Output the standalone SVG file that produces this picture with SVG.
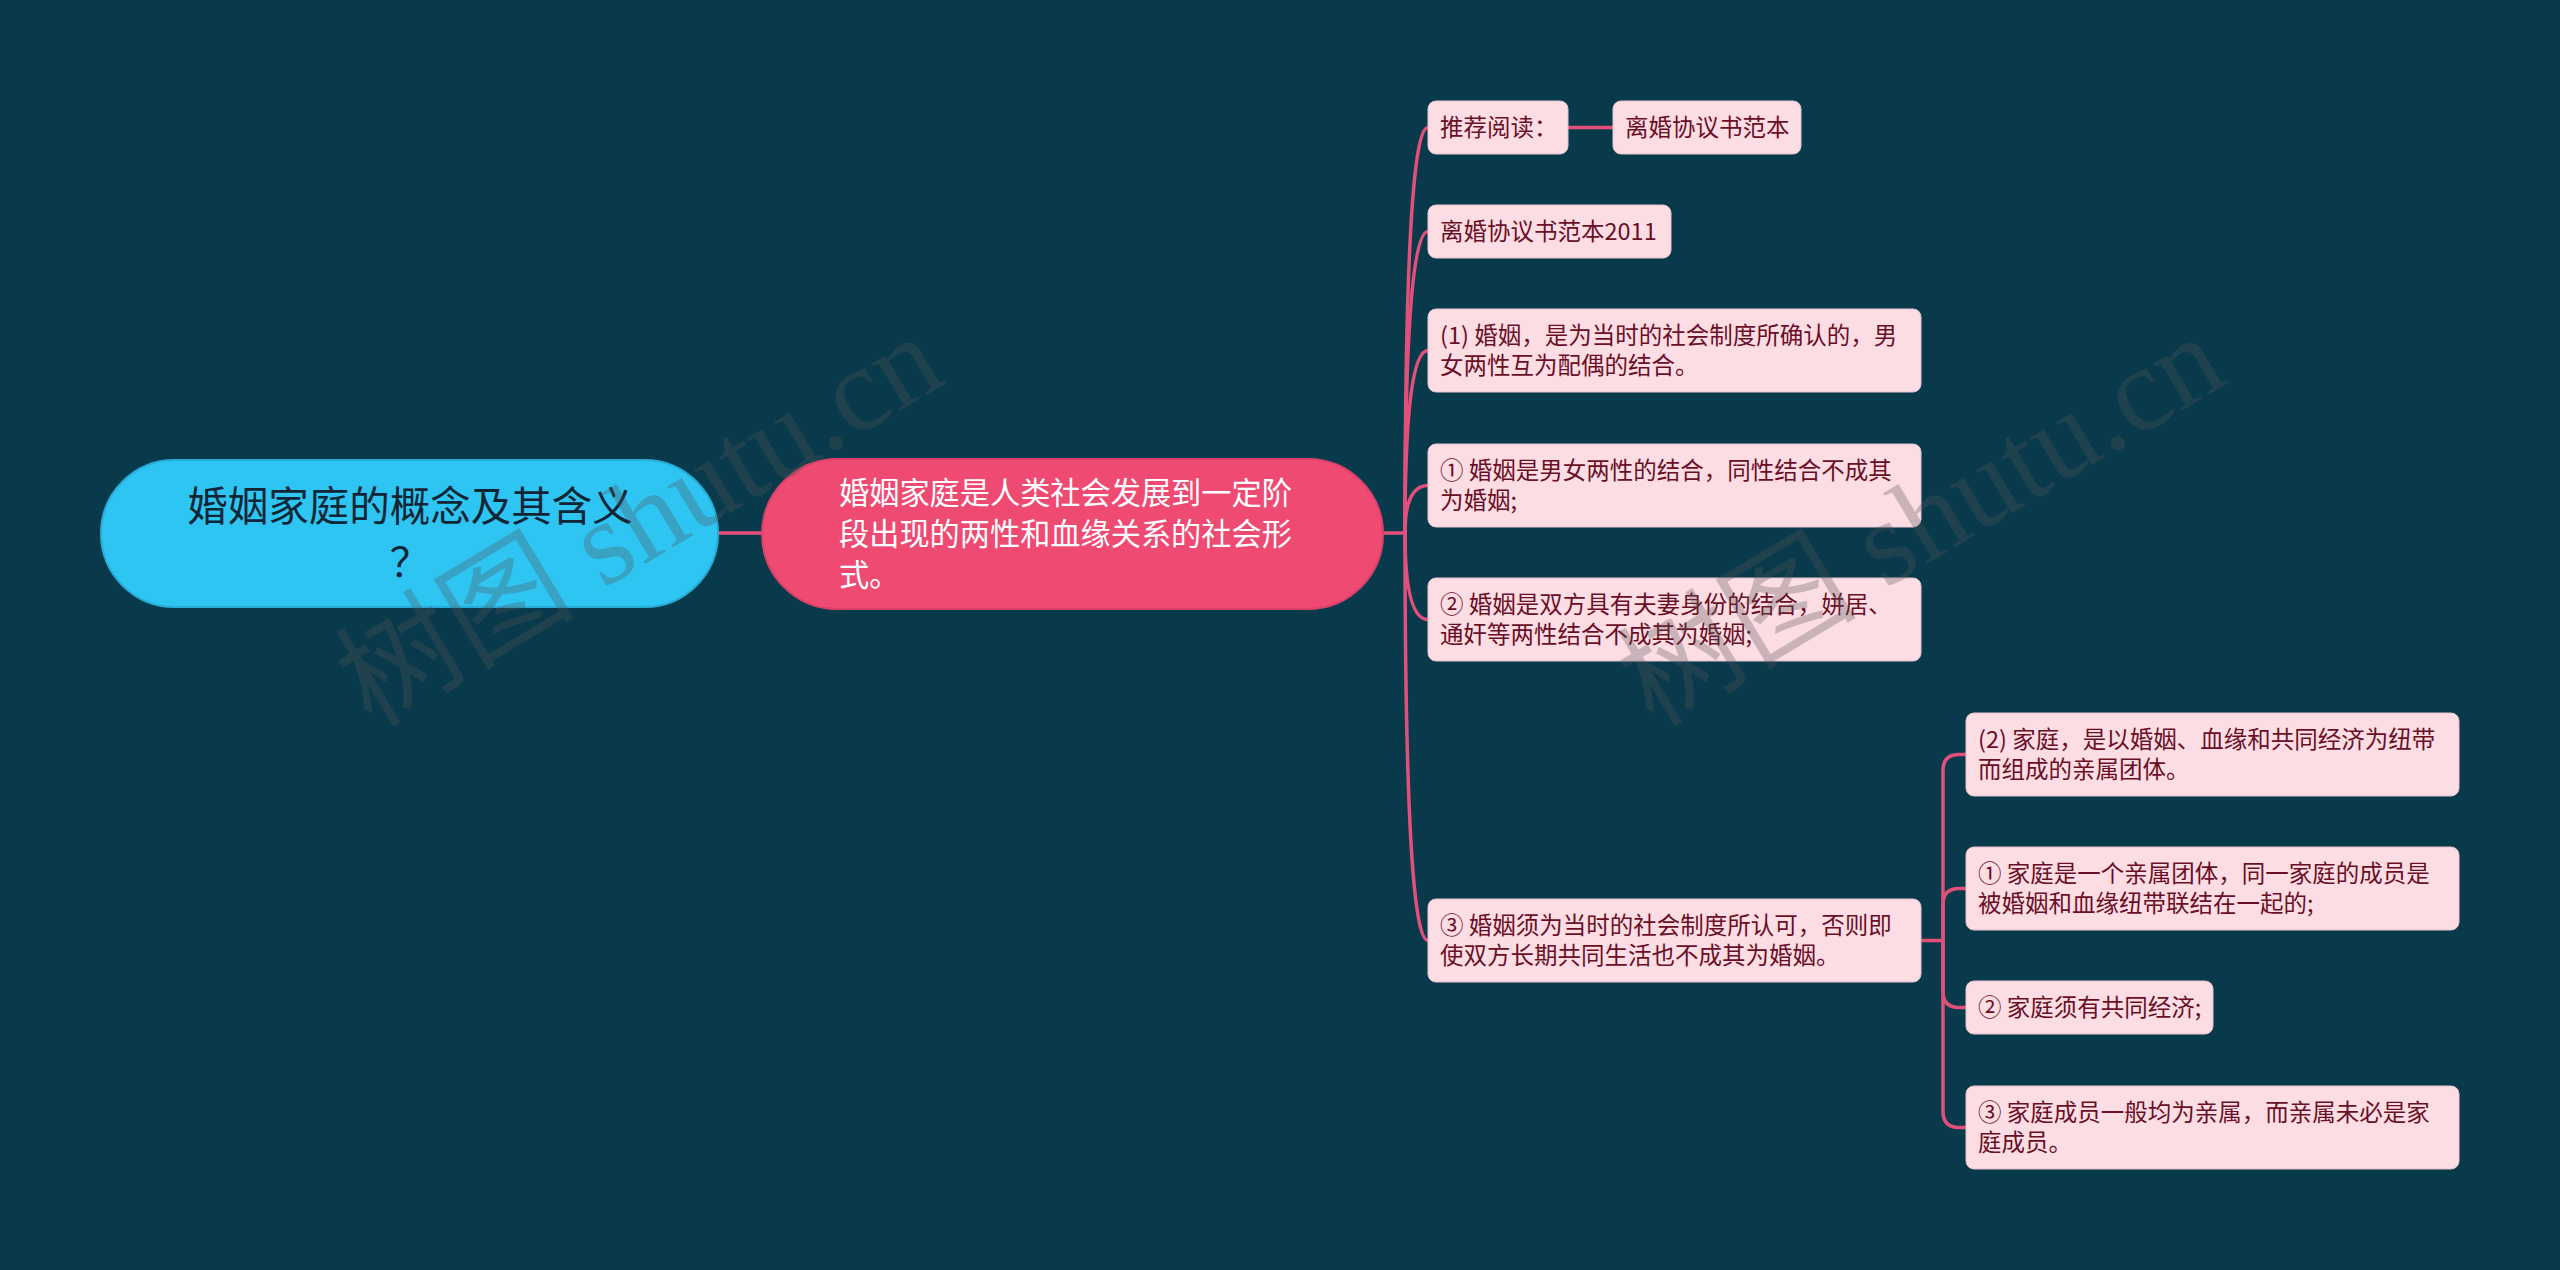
<svg xmlns="http://www.w3.org/2000/svg" width="2560" height="1270" viewBox="0 0 2560 1270">
<defs>
<style>
.bg{fill:#083a4c}
.root rect{fill:#2ec5f3;stroke:#27acd8;stroke-width:2}
.root text{fill:#102536;font-size:40.5px;font-family:"Noto Sans CJK SC","Noto Sans",sans-serif;text-anchor:middle}
.main rect{fill:#ef4a72;stroke:#d9416a;stroke-width:2}
.main text{fill:#ffffff;font-size:30.2px;font-family:"Noto Sans CJK SC","Noto Sans",sans-serif}
.leaf rect{fill:#fcdde4;stroke:#e7c3cc;stroke-width:1}
.leaf text{fill:#6a0f26;font-size:23.5px;font-family:"Noto Sans CJK SC","Noto Sans",sans-serif}
.conn path{fill:none;stroke:#e2507a;stroke-width:3.5;stroke-linecap:round}
.wm text{fill:#555555;opacity:0.3;font-size:120px;font-family:"Liberation Serif","Noto Sans CJK SC",serif;text-anchor:middle}
</style>
</defs>
<rect class="bg" x="0" y="0" width="2560" height="1270"/>

<g class="conn" id="connectors">
<path d="M718 533 L762 533"/>
<path d="M1383 533 L1405 533"/>
<path d="M1405 533 Q1405 127.5 1428 127.5"/>
<path d="M1405 533 Q1405 231.5 1428 231.5"/>
<path d="M1405 533 Q1405 350.5 1428 350.5"/>
<path d="M1405 533 Q1405 485.5 1428 485.5"/>
<path d="M1405 533 Q1405 619.5 1428 619.5"/>
<path d="M1405 533 Q1405 940.5 1428 940.5"/>
<path d="M1568 127.5 L1613 127.5"/>
<path d="M1921 940.5 L1943 940.5"/>
<path d="M1943 940.5 L1943 770.5 Q1943 754.5 1959 754.5 L1966 754.5"/>
<path d="M1943 940.5 L1943 904.5 Q1943 888.5 1959 888.5 L1966 888.5"/>
<path d="M1943 940.5 L1943 991.5 Q1943 1007.5 1959 1007.5 L1966 1007.5"/>
<path d="M1943 940.5 L1943 1111.5 Q1943 1127.5 1959 1127.5 L1966 1127.5"/>
</g>

<g class="root" id="node-root">
<rect x="101" y="460" width="617" height="147" rx="73.5" ry="73.5"/>
<text x="410" y="521">婚姻家庭的概念及其含义</text>
<text x="410" y="577">？</text>
</g>

<g class="main" id="node-main">
<rect x="762" y="459" width="621" height="150" rx="75" ry="75"/>
<text x="839" y="504">婚姻家庭是人类社会发展到一定阶</text>
<text x="839" y="545">段出现的两性和血缘关系的社会形</text>
<text x="839" y="586">式。</text>
</g>

<g class="leaf" id="node-tuijian">
<rect x="1428" y="101" width="140" height="53" rx="8"/>
<text x="1440" y="135.5">推荐阅读：</text>
</g>

<g class="leaf" id="node-lihun">
<rect x="1613" y="101" width="188" height="53" rx="8"/>
<text x="1625" y="135.5">离婚协议书范本</text>
</g>

<g class="leaf" id="node-lihun2011">
<rect x="1428" y="205" width="243" height="53" rx="8"/>
<text x="1440" y="239.5">离婚协议书范本2011</text>
</g>

<g class="leaf" id="node-hunyin1">
<rect x="1428" y="309" width="493" height="83" rx="8"/>
<text x="1440" y="343.5">(1) 婚姻，是为当时的社会制度所确认的，男</text>
<text x="1440" y="373.5">女两性互为配偶的结合。</text>
</g>

<g class="leaf" id="node-hunyin-a">
<rect x="1428" y="444" width="493" height="83" rx="8"/>
<text x="1440" y="478.5">① 婚姻是男女两性的结合，同性结合不成其</text>
<text x="1440" y="508.5">为婚姻;</text>
</g>

<g class="leaf" id="node-hunyin-b">
<rect x="1428" y="578" width="493" height="83" rx="8"/>
<text x="1440" y="612.5">② 婚姻是双方具有夫妻身份的结合，姘居、</text>
<text x="1440" y="642.5">通奸等两性结合不成其为婚姻;</text>
</g>

<g class="leaf" id="node-hunyin-c">
<rect x="1428" y="899" width="493" height="83" rx="8"/>
<text x="1440" y="933.5">③ 婚姻须为当时的社会制度所认可，否则即</text>
<text x="1440" y="963.5">使双方长期共同生活也不成其为婚姻。</text>
</g>

<g class="leaf" id="node-jiating2">
<rect x="1966" y="713" width="493" height="83" rx="8"/>
<text x="1978" y="747.5">(2) 家庭，是以婚姻、血缘和共同经济为纽带</text>
<text x="1978" y="777.5">而组成的亲属团体。</text>
</g>

<g class="leaf" id="node-jiating-a">
<rect x="1966" y="847" width="493" height="83" rx="8"/>
<text x="1978" y="881.5">① 家庭是一个亲属团体，同一家庭的成员是</text>
<text x="1978" y="911.5">被婚姻和血缘纽带联结在一起的;</text>
</g>

<g class="leaf" id="node-jiating-b">
<rect x="1966" y="981" width="247" height="53" rx="8"/>
<text x="1978" y="1015.5">② 家庭须有共同经济;</text>
</g>

<g class="leaf" id="node-jiating-c">
<rect x="1966" y="1086" width="493" height="83" rx="8"/>
<text x="1978" y="1120.5">③ 家庭成员一般均为亲属，而亲属未必是家</text>
<text x="1978" y="1150.5">庭成员。</text>
</g>

<g class="wm">
<text x="0" y="0" transform="translate(660 555) rotate(-31)">树图 shutu.cn</text>
<text x="0" y="0" transform="translate(1942 555) rotate(-31)">树图 shutu.cn</text>
</g>
</svg>
